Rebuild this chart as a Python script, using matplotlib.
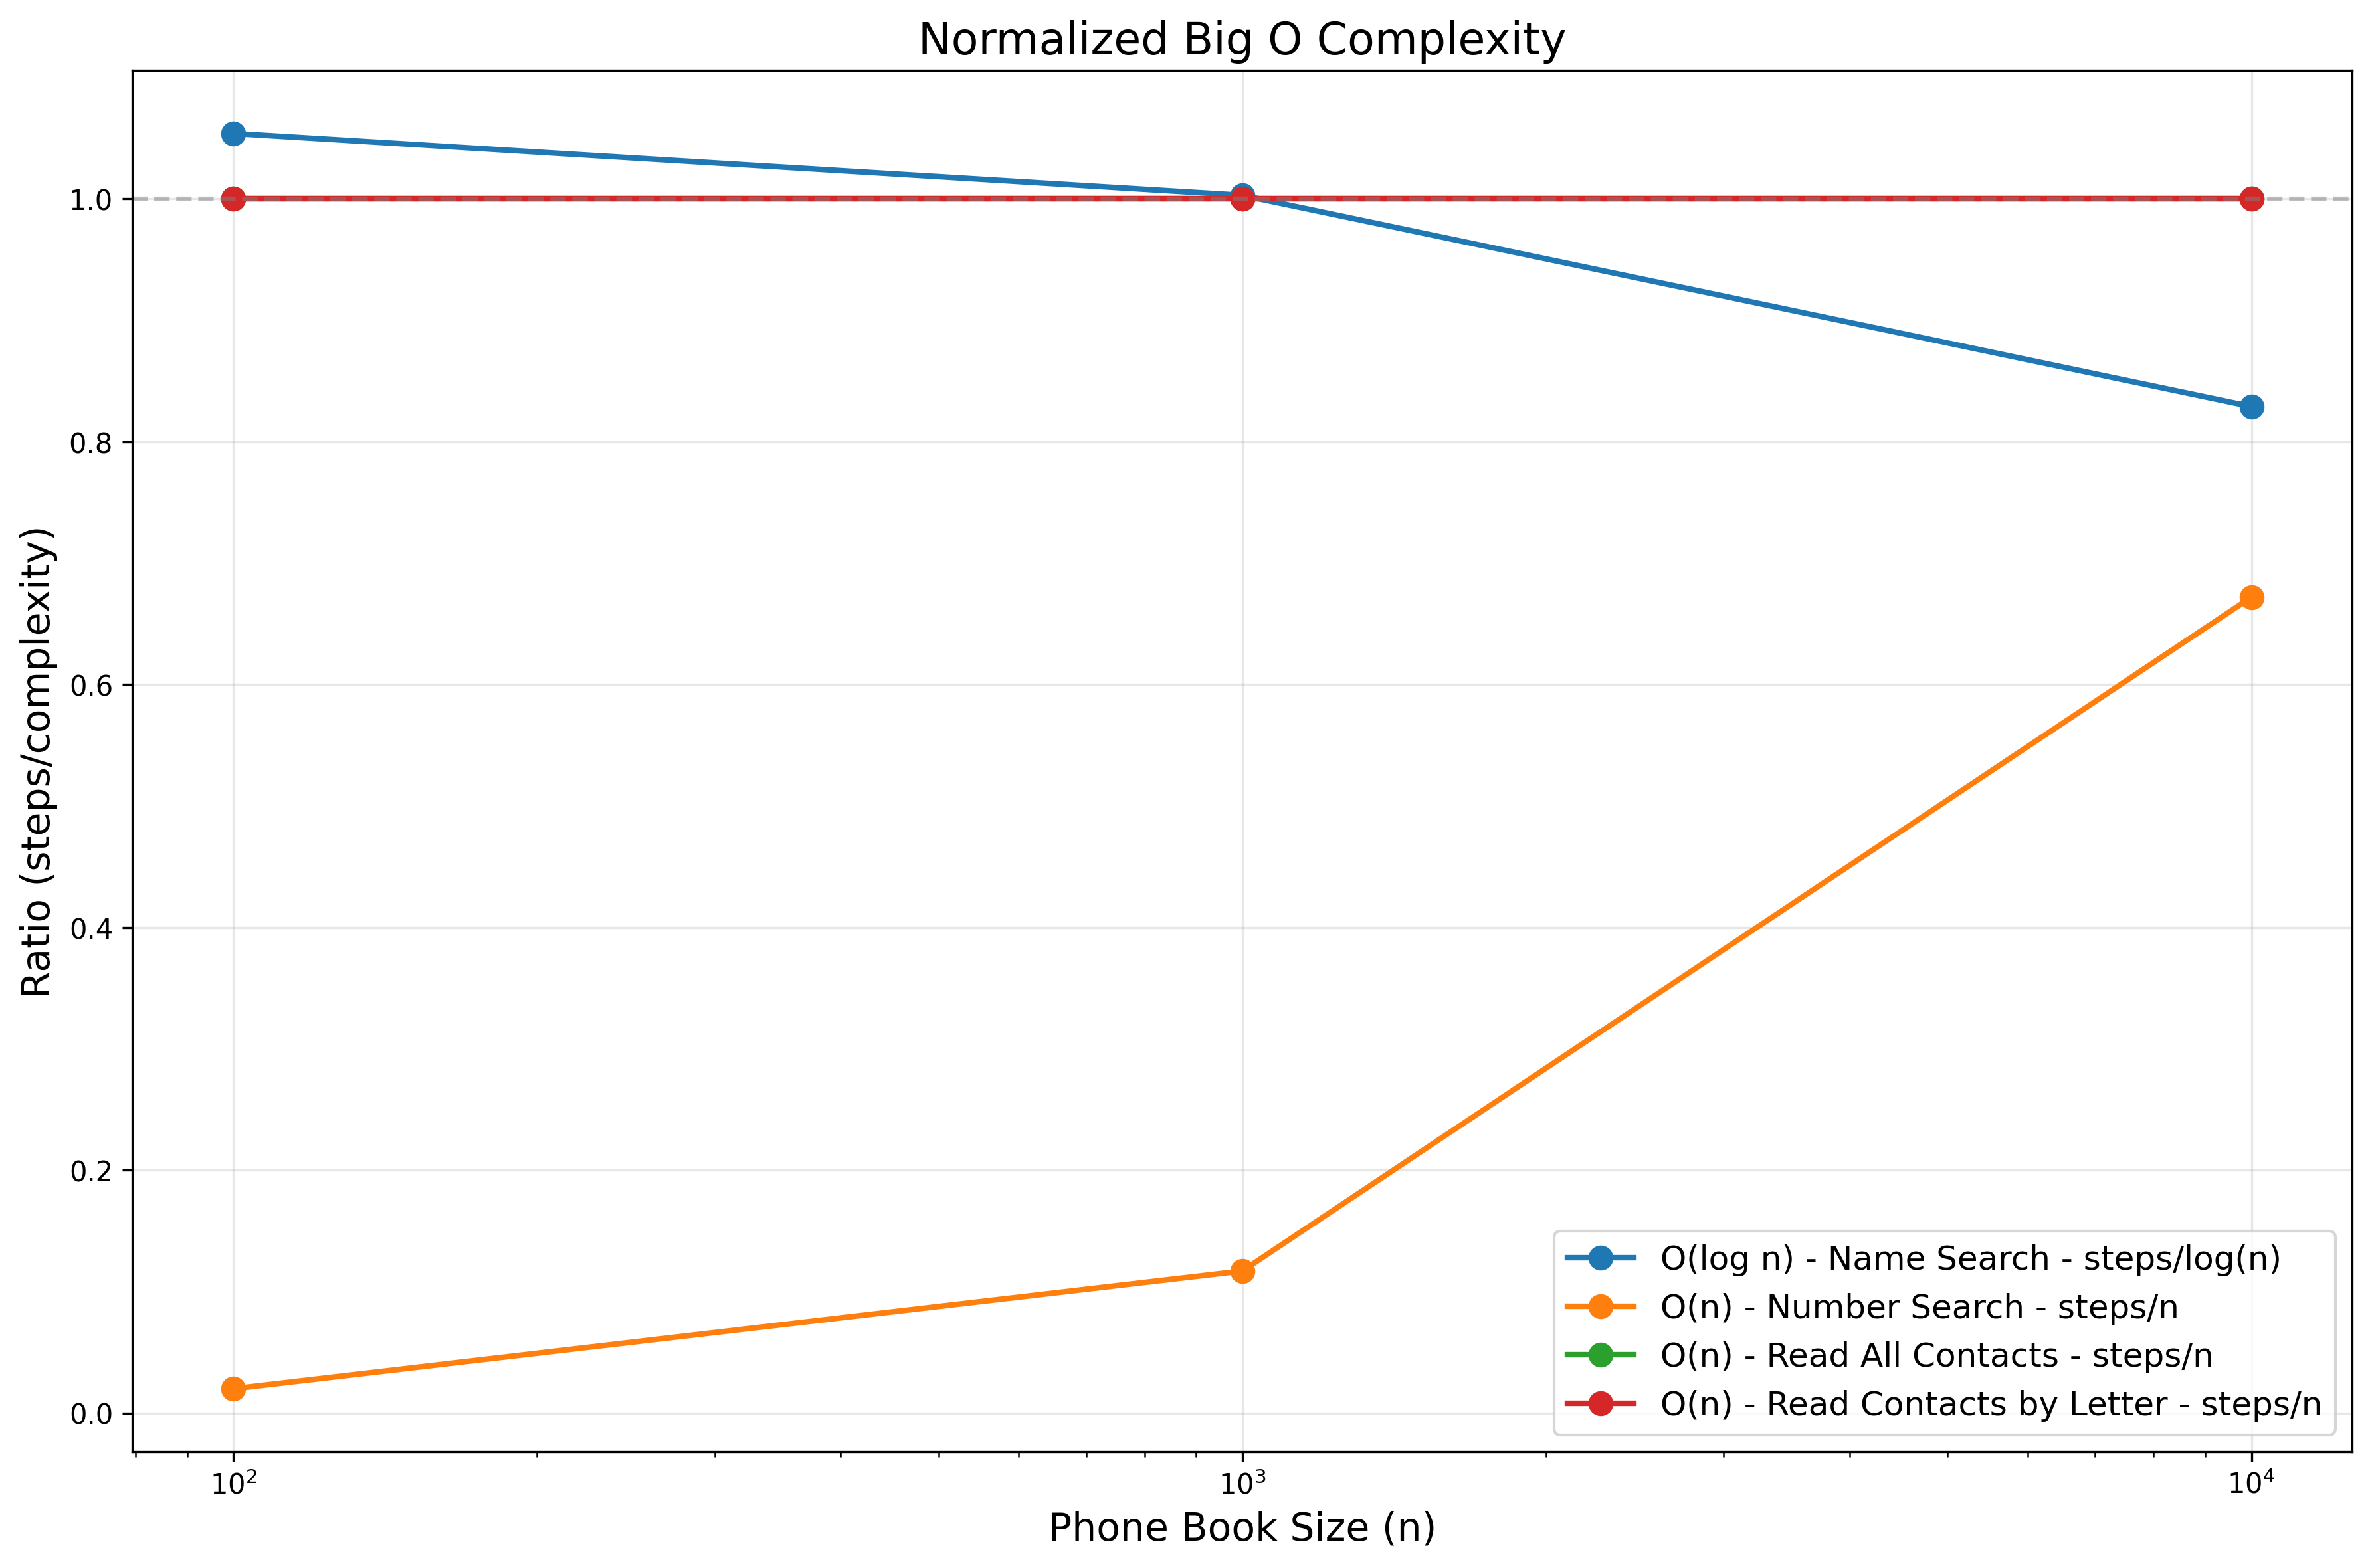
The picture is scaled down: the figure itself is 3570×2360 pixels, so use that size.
import matplotlib.pyplot as plt

sizes = [100, 1000, 10000]
name_search = [1.054, 1.003, 0.829]
number_search = [0.020, 0.117, 0.672]
read_all = [1.0, 1.0, 1.0]
read_by_letter = [1.0, 1.0, 1.0]

labels = ["O(log n) - Name Search - steps/log(n)",
          "O(n) - Number Search - steps/n",
          "O(n) - Read All Contacts - steps/n",
          "O(n) - Read Contacts by Letter - steps/n"]
series = [name_search, number_search, read_all, read_by_letter]

fig, ax = plt.subplots(figsize=(12, 8))
for s, lab in zip(series, labels):
    ax.plot(sizes, s, marker="o", linewidth=2, markersize=8, label=lab)
ax.axhline(1.0, color="gray", linestyle="--", alpha=0.5)
ax.set_xscale("log")
ax.set_xlabel("Phone Book Size (n)", fontsize=14)
ax.set_ylabel("Ratio (steps/complexity)", fontsize=14)
ax.set_title("Normalized Big O Complexity", fontsize=16)
ax.grid(True, alpha=0.3)
ax.legend(fontsize=12, loc="lower right")
plt.tight_layout()
plt.savefig("out.png", dpi=300, bbox_inches="tight")
